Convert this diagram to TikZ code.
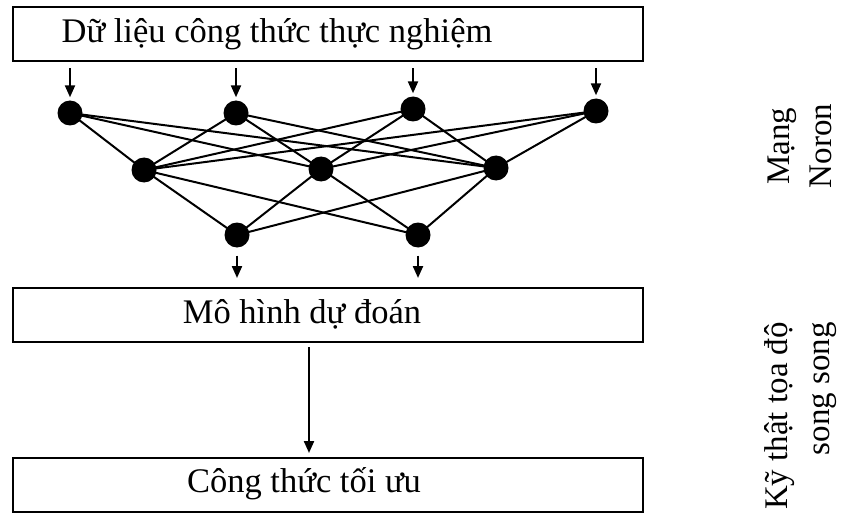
\documentclass[tikz,border=0pt]{standalone}
\usepackage{fontspec}
\setmainfont{Liberation Serif}
\usetikzlibrary{arrows.meta}
\begin{document}
\begin{tikzpicture}[x=1pt,y=-1pt,
  every node/.style={font=\fontsize{34.5}{42}\selectfont},
  frame/.style={draw,line width=2pt,minimum width=630pt,minimum height=54pt,inner sep=0pt},
  neuron/.style={circle,fill=black,inner sep=0pt,minimum size=25pt},
  link/.style={line width=2pt},
  feed/.style={line width=2.2pt,-{Triangle[length=12pt,width=10pt]}},
  sidelabel/.style={rotate=90,inner sep=0pt,font=\fontsize{33}{42}\selectfont}
]
\useasboundingbox (0,0) rectangle (842,513);

% boxes and their captions
\node[frame] (data) at (328,34.5) {};
\node (datatext) at (277,34) {Dữ liệu công thức thực nghiệm};
\node[frame] (model) at (328,315) {};
\node (modeltext) at (302,314) {Mô hình dự đoán};
\node[frame] (opt) at (328,485) {};
\node (opttext) at (304,484) {Công thức tối ưu};

% network layers
\node[neuron] (i1) at (70,113) {};
\node[neuron] (i2) at (236,113) {};
\node[neuron] (i3) at (413,109) {};
\node[neuron] (i4) at (596,111) {};
\node[neuron] (h1) at (144,170) {};
\node[neuron] (h2) at (321,169) {};
\node[neuron] (h3) at (496,168) {};
\node[neuron] (o1) at (237,235) {};
\node[neuron] (o2) at (418,235) {};

\foreach \i in {i1,i2,i3,i4}
  \foreach \h in {h1,h2,h3}
    \draw[link] (\i.center) -- (\h.center);
\foreach \h in {h1,h2,h3}
  \foreach \o in {o1,o2}
    \draw[link] (\h.center) -- (\o.center);

% input arrows
\foreach \i in {i1,i2,i3,i4}{
  \coordinate (src-\i) at ([yshift=-6pt]data.south -| \i);
  \draw[feed] (src-\i) -- ([yshift=3pt]\i.north);
}
% output arrows
\foreach \o in {o1,o2}{
  \coordinate (dst-\o) at ([yshift=9pt]model.north -| \o);
  \draw[feed] ([yshift=-8pt]\o.south) -- (dst-\o);
}
% model to optimum
\coordinate (mid-top) at (309,347);
\coordinate (mid-bot) at (309,453);
\draw[feed] (mid-top) -- (mid-bot);

% side captions
\node[sidelabel,align=center] (netlabel) at (800,146) {Mạng\\Noron};
\node[sidelabel,align=right] (pclabel) at (801,416) {Kỹ thật tọa độ\\song song};
\end{tikzpicture}
\end{document}
